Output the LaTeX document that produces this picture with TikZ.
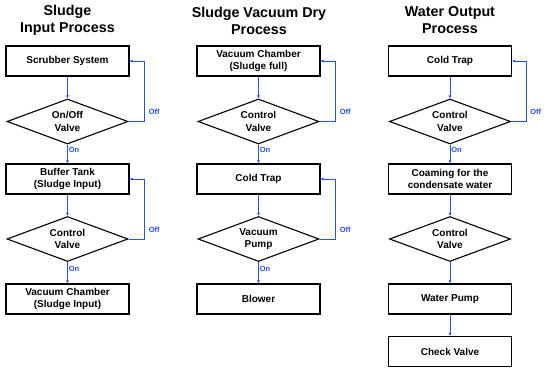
\documentclass[tikz,border=0pt]{standalone}
\usepackage{fontspec}
\setmainfont{Liberation Sans}
\usetikzlibrary{arrows.meta,shapes.geometric}
\definecolor{flowblue}{RGB}{40,80,225}

\begin{document}
\begin{tikzpicture}[x=1pt, y=-1pt, >={Latex[length=3pt,width=3pt]},
  title/.style={font=\fontsize{14.3}{17}\selectfont\bfseries, align=center},
  procbox/.style={draw, line width=1.1pt, minimum width=123pt, minimum height=30pt, inner sep=0pt, align=center, font=\fontsize{10}{12.5}\selectfont\bfseries},
  valve/.style={diamond, draw, line width=1.1pt, minimum width=121pt, minimum height=45pt, shape aspect=2.7, inner sep=0pt, align=center, font=\fontsize{10}{12.5}\selectfont\bfseries},
  edge/.style={->, line width=0.6pt, draw=flowblue},
  lbl/.style={font=\fontsize{7.5}{9}\selectfont\bfseries, text=flowblue, inner sep=1pt, anchor=west}
]
\useasboundingbox (0,0) rectangle (550,372);
% titles
\node[title] (t1) at (67.5,20.5) {Sludge\\Input Process};
\node[title] (t2) at (259,20.5) {Sludge Vacuum Dry\\Process};
\node[title] (t3) at (450,20.5) {Water Output\\Process};
% sludge input
\node[procbox] (a1) at (67.5,61) {Scrubber System};
\node[valve] (a2) at (67.5,121.5) {On/Off\\Valve};
\node[procbox] (a3) at (67.5,179) {Buffer Tank\\(Sludge Input)};
\node[valve] (a4) at (67.5,239) {Control\\Valve};
\node[procbox] (a5) at (67.5,299) {Vacuum Chamber\\(Sludge Input)};
\draw[edge] (a1) -- (a2);
\draw[edge] (a2) -- node[lbl, pos=0.3] {On} (a3);
\draw[edge] (a3) -- (a4);
\draw[edge] (a4) -- node[lbl, pos=0.3] {On} (a5);
\draw[edge] (a2.east) -- ++(16,0) |- (a1.east) node[lbl, pos=0.08, xshift=3pt] {Off};
\draw[edge] (a4.east) -- ++(16,0) |- (a3.east) node[lbl, pos=0.08, xshift=3pt] {Off};
% sludge vacuum dry
\node[procbox] (b1) at (258.5,61) {Vacuum Chamber\\(Sludge full)};
\node[valve] (b2) at (258.5,121.5) {Control\\Valve};
\node[procbox] (b3) at (258.5,179) {Cold Trap};
\node[valve] (b4) at (258.5,239) {Vacuum\\Pump};
\node[procbox] (b5) at (258.5,299) {Blower};
\draw[edge] (b1) -- (b2);
\draw[edge] (b2) -- node[lbl, pos=0.3] {On} (b3);
\draw[edge] (b3) -- (b4);
\draw[edge] (b4) -- node[lbl, pos=0.3] {On} (b5);
\draw[edge] (b2.east) -- ++(16,0) |- (b1.east) node[lbl, pos=0.08, xshift=3pt] {Off};
\draw[edge] (b4.east) -- ++(16,0) |- (b3.east) node[lbl, pos=0.08, xshift=3pt] {Off};
% water output
\node[procbox] (c1) at (450,61) {Cold Trap};
\node[valve] (c2) at (450,121.5) {Control\\Valve};
\node[procbox] (c3) at (450,179) {Coaming for the\\condensate water};
\node[valve] (c4) at (450,239) {Control\\Valve};
\node[procbox] (c5) at (450,299) {Water Pump};
\node[procbox] (c6) at (450,351.5) {Check Valve};
\draw[edge] (c1) -- (c2);
\draw[edge] (c2) -- node[lbl, pos=0.3] {On} (c3);
\draw[edge] (c3) -- (c4);
\draw[edge] (c4) -- (c5);
\draw[edge] (c5) -- (c6);
\draw[edge] (c2.east) -- ++(15,0) |- (c1.east) node[lbl, pos=0.08, xshift=3pt] {Off};
\end{tikzpicture}
\end{document}
